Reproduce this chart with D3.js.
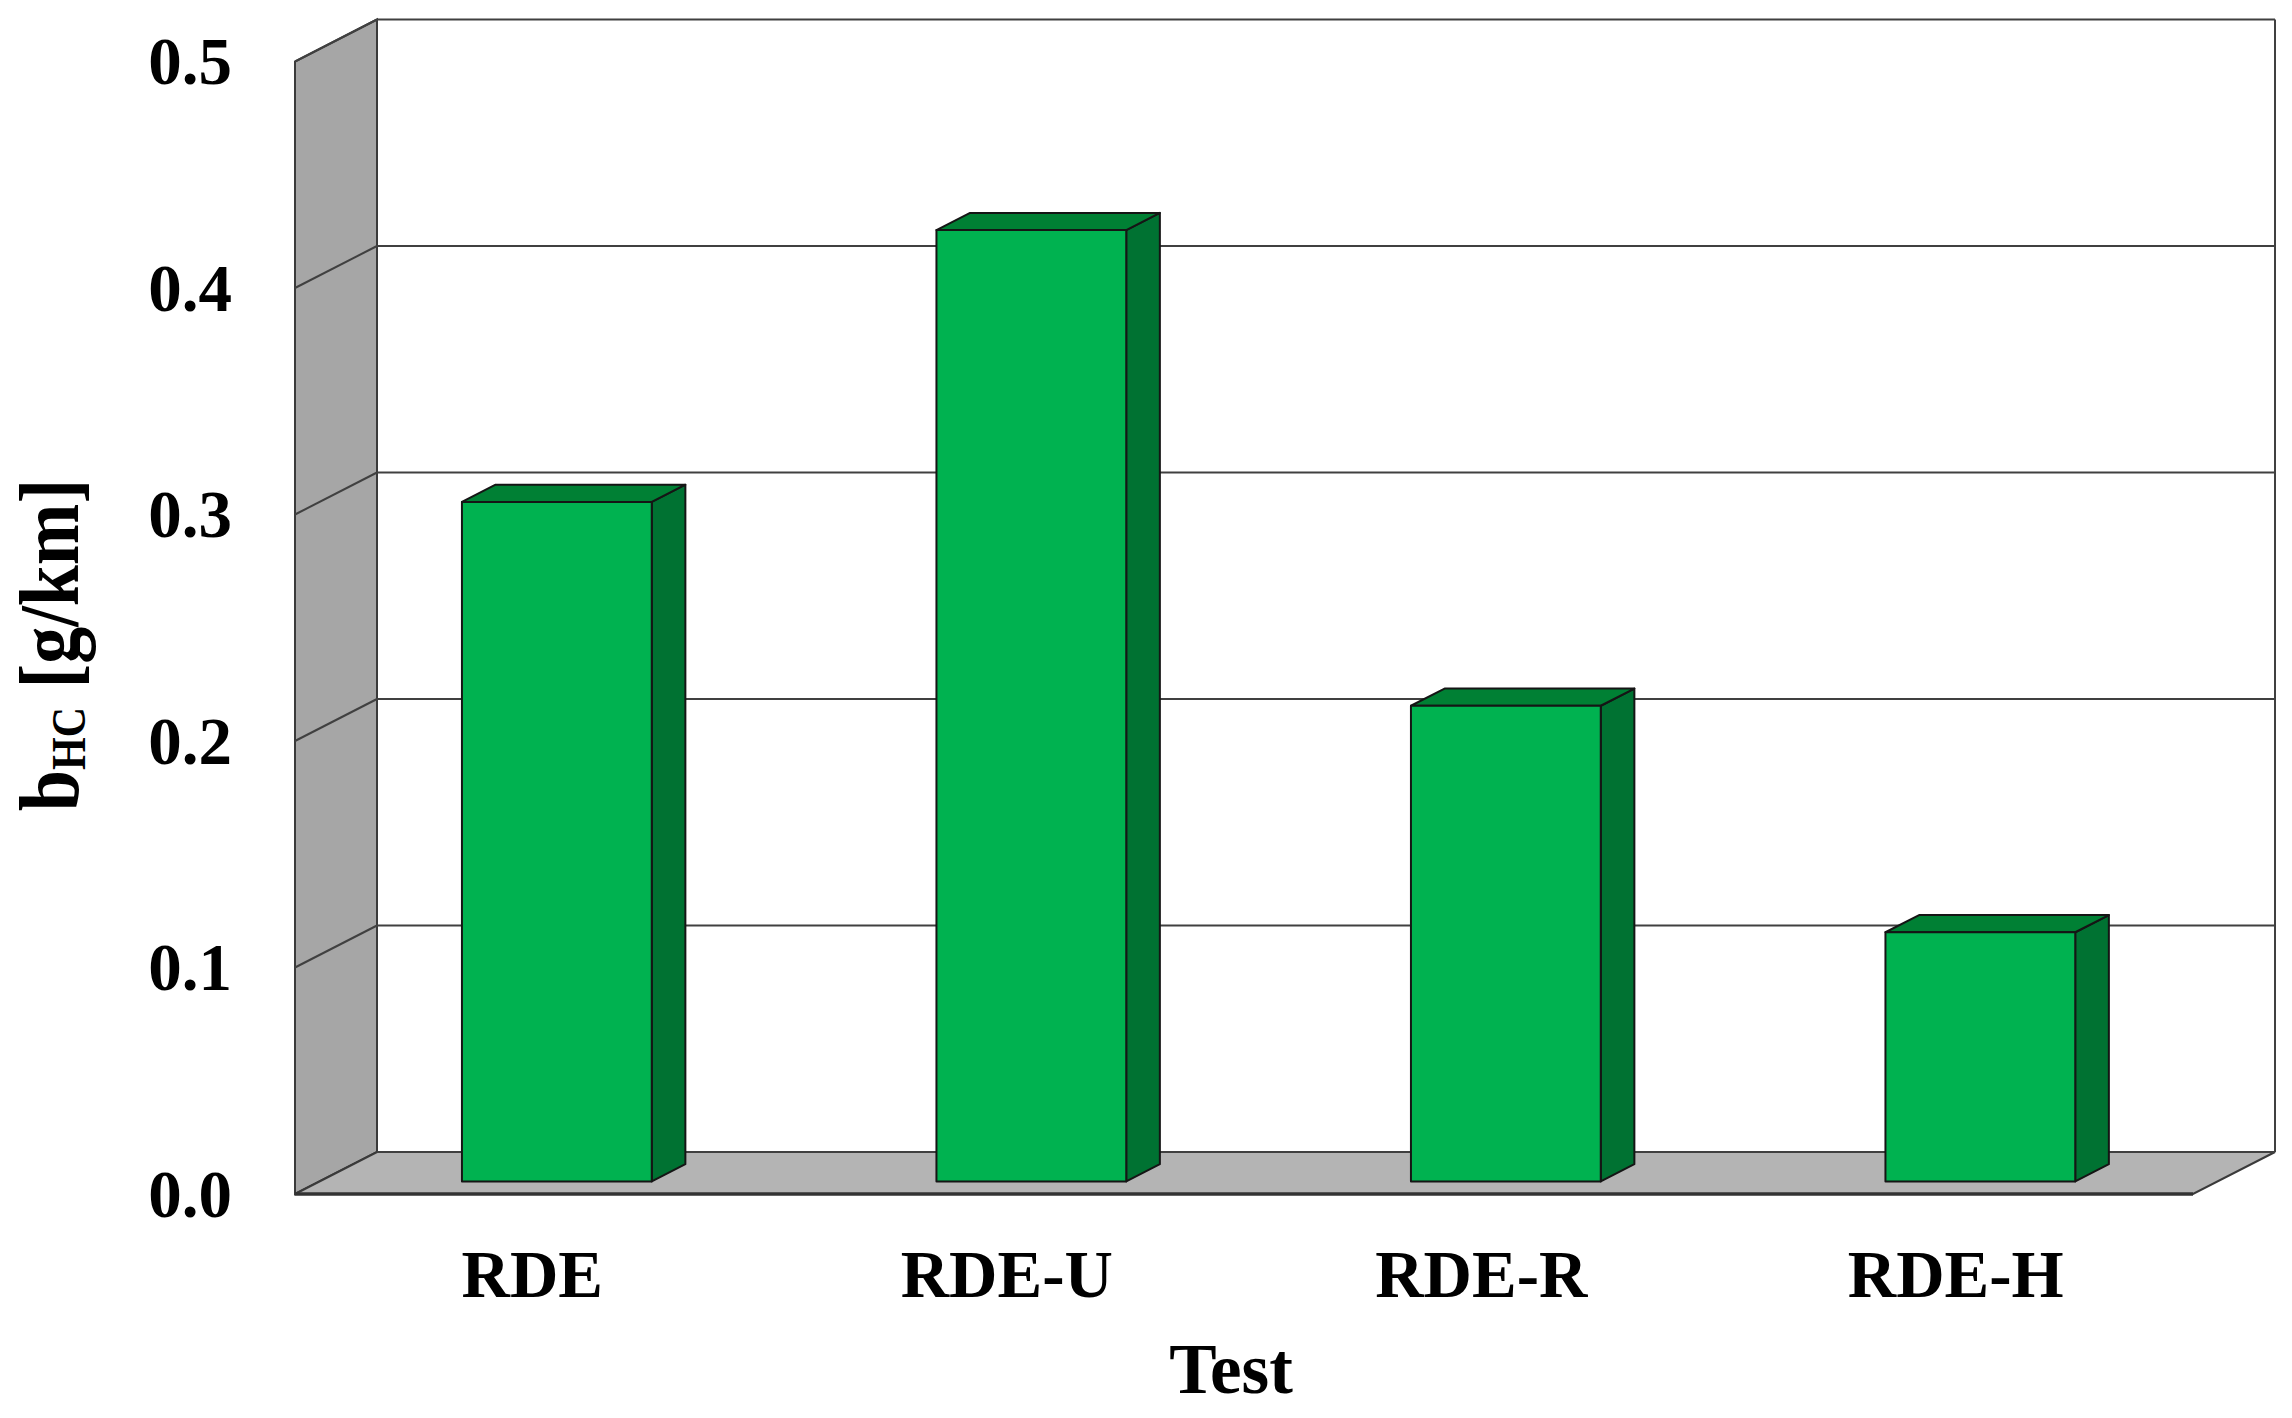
<!DOCTYPE html>
<html>

<head>
    <title>HC emission per test</title>
    <script src="https://d3js.org/d3.v7.min.js"></script>
    <style>
        body {
            margin: 0;
            background: white;
        }

        .tick-label {
            font-family: "Liberation Serif", "Times New Roman", serif;
            font-weight: bold;
            fill: black;
        }
    </style>
</head>

<body>
    <div id="chart"></div>
    <script>
        // data
        const categories = ["RDE", "RDE-U", "RDE-R", "RDE-H"]
        const values = [0.30, 0.42, 0.21, 0.11]
        const yTicks = [0.0, 0.1, 0.2, 0.3, 0.4, 0.5]

        const width = 2292
        const height = 1418

        // front plane of the floor and the depth of the 3d box
        const left = 295
        const floorY = 1194
        const topY = 61.5
        const plotW = 1898
        const depthX = 82
        const depthY = 42
        // bars sit in the middle of the depth
        const barFront = 0.3
        const barBack = 0.71

        const svg = d3.select("#chart")
            .append("svg")
            .attr("width", width)
            .attr("height", height)

        const x = d3.scaleBand()
            .domain(categories)
            .range([0, plotW])
            .paddingInner(0.6)
            .paddingOuter(0.3)

        const y = d3.scaleLinear()
            .domain([0, 0.5])
            .range([floorY, topY])

        // turn (x offset, value, depth fraction) into screen coords
        const pt = (px, v, f) => [left + px + f * depthX, y(v) - f * depthY]
        const poly = (pts) => "M" + pts.map(p => p.join(",")).join("L") + "Z"

        // back wall
        const back0 = pt(0, 0.5, 1)
        const back1 = pt(plotW, 0, 1)
        svg.append("rect")
            .attr("x", back0[0])
            .attr("y", back0[1])
            .attr("width", back1[0] - back0[0])
            .attr("height", back1[1] - back0[1])
            .attr("fill", "white")

        // left wall
        svg.append("path")
            .attr("d", poly([pt(0, 0, 0), pt(0, 0.5, 0), pt(0, 0.5, 1), pt(0, 0, 1)]))
            .attr("fill", "#a6a6a6")
            .attr("stroke", "#3a3a3a")
            .attr("stroke-width", 2)

        // floor
        svg.append("path")
            .attr("d", poly([pt(0, 0, 0), pt(0, 0, 1), pt(plotW, 0, 1), pt(plotW, 0, 0)]))
            .attr("fill", "#b4b4b4")
            .attr("stroke", "#3a3a3a")
            .attr("stroke-width", 2)

        svg.append("line")
            .attr("x1", pt(0, 0, 0)[0]).attr("y1", pt(0, 0, 0)[1])
            .attr("x2", pt(plotW, 0, 0)[0]).attr("y2", pt(plotW, 0, 0)[1])
            .attr("stroke", "#333")
            .attr("stroke-width", 3.5)

        // gridlines: across the left wall and along the back wall
        const grid = svg.append("g")
            .attr("fill", "none")
            .attr("stroke", "#404040")
            .attr("stroke-width", 2)

        grid.selectAll(".grid-side")
            .data(yTicks.filter(d => d > 0))
            .join("path")
            .attr("class", "grid-side")
            .attr("d", d => d3.line()([pt(0, d, 0), pt(0, d, 1)]))

        grid.selectAll(".grid-back")
            .data(yTicks)
            .join("path")
            .attr("class", "grid-back")
            .attr("d", d => d3.line()([pt(0, d, 1), pt(plotW, d, 1)]))

        // right edge of the back wall
        grid.append("path")
            .attr("d", d3.line()([pt(plotW, 0.5, 1), pt(plotW, 0, 1)]))

        // bars
        const bars = svg.selectAll(".bar")
            .data(categories.map((c, i) => ({ name: c, value: values[i] })))
            .join("g")
            .attr("class", "bar")
            .attr("stroke", "#151515")
            .attr("stroke-width", 2)
            .attr("stroke-linejoin", "round")

        bars.append("path")
            .attr("d", d => {
                const x1 = x(d.name) + x.bandwidth()
                return poly([pt(x1, d.value, barFront), pt(x1, d.value, barBack), pt(x1, 0, barBack), pt(x1, 0, barFront)])
            })
            .attr("fill", "#007232")

        bars.append("path")
            .attr("d", d => {
                const x0 = x(d.name)
                const x1 = x0 + x.bandwidth()
                return poly([pt(x0, d.value, barFront), pt(x0, d.value, barBack), pt(x1, d.value, barBack), pt(x1, d.value, barFront)])
            })
            .attr("fill", "#008034")

        bars.append("path")
            .attr("d", d => {
                const x0 = x(d.name)
                const x1 = x0 + x.bandwidth()
                return poly([pt(x0, d.value, barFront), pt(x1, d.value, barFront), pt(x1, 0, barFront), pt(x0, 0, barFront)])
            })
            .attr("fill", "#00b250")

        // y tick labels
        svg.selectAll(".ytick")
            .data(yTicks)
            .join("text")
            .attr("class", "tick-label")
            .attr("x", 232)
            .attr("y", d => y(d))
            .attr("dy", "0.34em")
            .attr("text-anchor", "end")
            .style("font-size", "67px")
            .text(d => d3.format(".1f")(d))

        // x tick labels
        svg.selectAll(".xtick")
            .data(categories)
            .join("text")
            .attr("class", "tick-label")
            .attr("x", d => left + x(d) + x.bandwidth() / 2)
            .attr("y", 1297)
            .attr("text-anchor", "middle")
            .style("font-size", "67px")
            .text(d => d)

        // axis titles
        svg.append("text")
            .attr("class", "tick-label")
            .attr("x", 1231)
            .attr("y", 1393)
            .attr("text-anchor", "middle")
            .style("font-size", "71px")
            .text("Test")

        const yTitle = svg.append("text")
            .attr("class", "tick-label")
            .attr("transform", "translate(78,645) rotate(-90) scale(1,1.15)")
            .attr("text-anchor", "middle")
            .style("font-size", "74px")

        yTitle.append("tspan").text("b")
        yTitle.append("tspan").attr("dy", 6).style("font-size", "42px").text("HC")
        yTitle.append("tspan").attr("dy", -6).text(" [g/km]")
    </script>
</body>

</html>
